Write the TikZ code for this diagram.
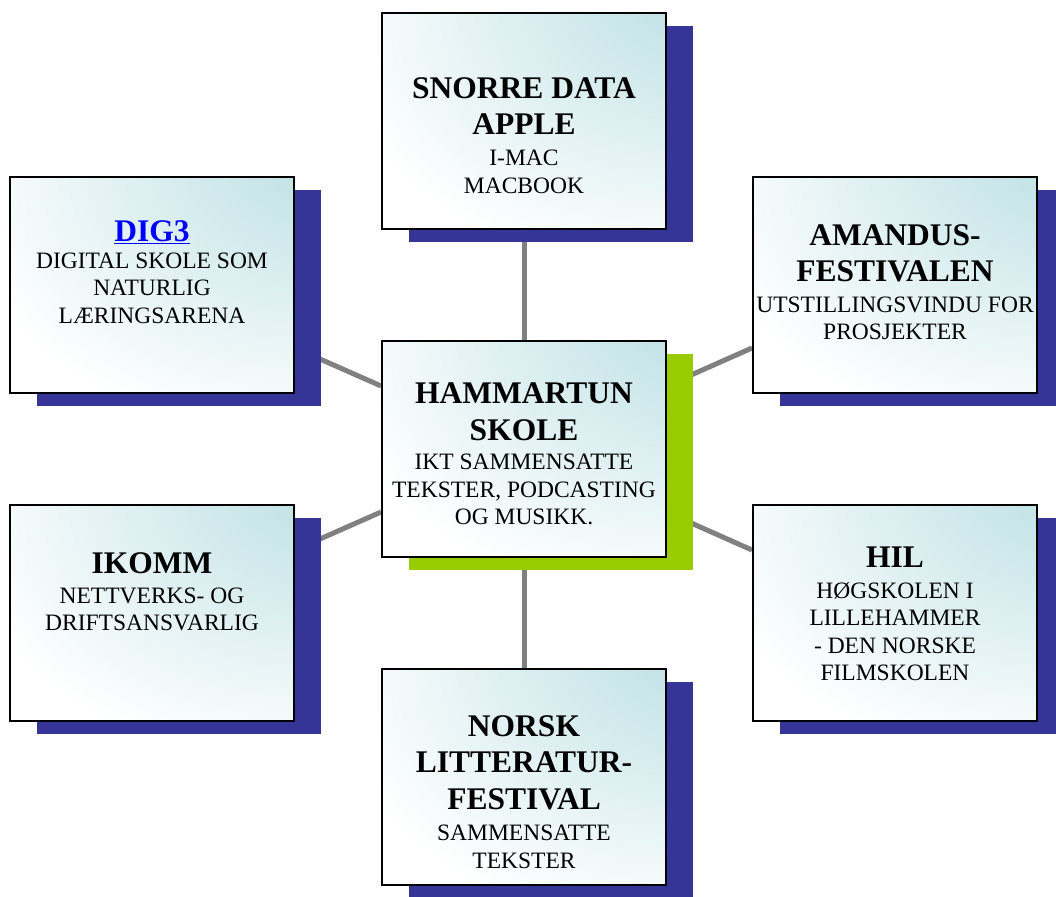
\documentclass[tikz,border=0pt]{standalone}
\usepackage{fontspec}
\setmainfont{Liberation Serif}
\usetikzlibrary{positioning, shadows, backgrounds}
\definecolor{boxteal}{RGB}{184,222,226}
\definecolor{shadowblue}{RGB}{53,53,151}
\definecolor{shadowgreen}{RGB}{153,204,0}
\definecolor{linkgray}{RGB}{128,128,128}
\pgfdeclareradialshading{boxglow}{\pgfpoint{45bp}{45bp}}{color(0bp)=(boxteal); color(10bp)=(boxteal); color(54bp)=(white); color(100bp)=(white)}
\tikzstyle{box}=[draw, line width=2pt, minimum width=284pt, minimum height=216pt, inner sep=0pt, shade, shading=boxglow]
\tikzstyle{blueshadow}=[general shadow={fill=shadowblue, shadow xshift=27pt, shadow yshift=-13pt}]
\tikzstyle{greenshadow}=[general shadow={fill=shadowgreen, shadow xshift=27pt, shadow yshift=-13pt}]
\tikzstyle{title}=[align=center, inner sep=0pt, font=\fontsize{31.5}{36.7}\selectfont\bfseries]
\tikzstyle{body}=[align=center, inner sep=0pt, font=\fontsize{23.5}{27.5}\selectfont]
\tikzstyle{link}=[linkgray, line width=5pt]

\begin{document}
\begin{tikzpicture}[x=1pt, y=-1pt]
		\useasboundingbox (0,0) rectangle (1056,896);

		\node[box, greenshadow] (ham) at (524, 449) {};
		\node[box, blueshadow] (snorre) at (524, 121) {};
		\node[box, blueshadow] (dig) at (152, 285) {};
		\node[box, blueshadow] (amandus) at (895, 285) {};
		\node[box, blueshadow] (ikomm) at (152, 613) {};
		\node[box, blueshadow] (hil) at (895, 613) {};
		\node[box, blueshadow] (norsk) at (524, 777) {};

		\begin{scope}[on background layer]
		\foreach \x in {snorre, dig, amandus, ikomm, hil, norsk}
		\draw[link] (ham) -- (\x);
		\end{scope}

		\node[title, below=43pt of ham.north] (hamT) {HAMMARTUN\\SKOLE};
		\node[body, below=13pt of hamT] {IKT SAMMENSATTE\\TEKSTER, PODCASTING\\OG MUSIKK.};

		\node[title, below=65pt of snorre.north] (snorreT) {SNORRE DATA\\APPLE};
		\node[body, below=15pt of snorreT] {I-MAC\\MACBOOK};

		\node[title, below=44pt of dig.north, text=blue] (digT) {\underline{DIG3}};
		\node[body, below=9pt of digT] {DIGITAL SKOLE SOM\\NATURLIG\\LÆRINGSARENA};

		\node[title, below=48pt of amandus.north] (amandusT) {AMANDUS-\\FESTIVALEN};
		\node[body, below=14pt of amandusT] {UTSTILLINGSVINDU FOR\\PROSJEKTER};

		\node[title, below=48pt of ikomm.north] (ikommT) {IKOMM};
		\node[body, below=14pt of ikommT] {NETTVERKS- OG\\DRIFTSANSVARLIG};

		\node[title, below=43pt of hil.north] (hilT) {HIL};
		\node[body, below=14pt of hilT] {HØGSKOLEN I\\LILLEHAMMER\\- DEN NORSKE\\FILMSKOLEN};

		\node[title, below=47pt of norsk.north] (norskT) {NORSK\\LITTERATUR-\\FESTIVAL};
		\node[body, below=15pt of norskT] {SAMMENSATTE\\TEKSTER};

	\end{tikzpicture}
\end{document}
